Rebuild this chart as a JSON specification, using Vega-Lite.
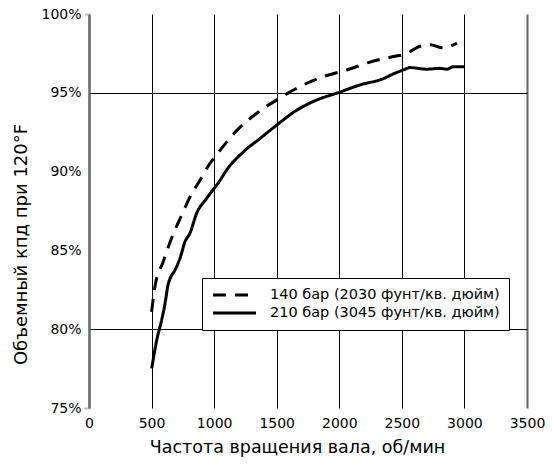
{
  "$schema": "https://vega.github.io/schema/vega-lite/v6.json",
  "autosize": "none",
  "width": 438,
  "height": 394,
  "padding": {"left": 89, "top": 14, "right": 27, "bottom": 60},
  "background": "white",
  "config": {
    "view": {"stroke": null},
    "font": "DejaVu Sans",
    "axis": {"labelFont": "DejaVu Sans", "titleFont": "DejaVu Sans", "labelColor": "black", "titleColor": "black", "titleFontWeight": "normal"}
  },
  "data": {
    "values": [
      {"rpm": 500, "eff": 81.1, "s": "140 бар (2030 фунт/кв. дюйм)"},
      {"rpm": 527, "eff": 82.7, "s": "140 бар (2030 фунт/кв. дюйм)"},
      {"rpm": 594, "eff": 84.3, "s": "140 бар (2030 фунт/кв. дюйм)"},
      {"rpm": 661, "eff": 85.8, "s": "140 бар (2030 фунт/кв. дюйм)"},
      {"rpm": 741, "eff": 87.25, "s": "140 бар (2030 фунт/кв. дюйм)"},
      {"rpm": 821, "eff": 88.6, "s": "140 бар (2030 фунт/кв. дюйм)"},
      {"rpm": 887, "eff": 89.45, "s": "140 бар (2030 фунт/кв. дюйм)"},
      {"rpm": 940, "eff": 90.2, "s": "140 бар (2030 фунт/кв. дюйм)"},
      {"rpm": 1047, "eff": 91.35, "s": "140 бар (2030 фунт/кв. дюйм)"},
      {"rpm": 1180, "eff": 92.6, "s": "140 бар (2030 фунт/кв. дюйм)"},
      {"rpm": 1340, "eff": 93.7, "s": "140 бар (2030 фунт/кв. дюйм)"},
      {"rpm": 1500, "eff": 94.55, "s": "140 бар (2030 фунт/кв. дюйм)"},
      {"rpm": 1687, "eff": 95.4, "s": "140 бар (2030 фунт/кв. дюйм)"},
      {"rpm": 1900, "eff": 96.1, "s": "140 бар (2030 фунт/кв. дюйм)"},
      {"rpm": 2060, "eff": 96.45, "s": "140 бар (2030 фунт/кв. дюйм)"},
      {"rpm": 2245, "eff": 96.95, "s": "140 бар (2030 фунт/кв. дюйм)"},
      {"rpm": 2432, "eff": 97.3, "s": "140 бар (2030 фунт/кв. дюйм)"},
      {"rpm": 2525, "eff": 97.45, "s": "140 бар (2030 фунт/кв. дюйм)"},
      {"rpm": 2645, "eff": 97.95, "s": "140 бар (2030 фунт/кв. дюйм)"},
      {"rpm": 2725, "eff": 98.05, "s": "140 бар (2030 фунт/кв. дюйм)"},
      {"rpm": 2832, "eff": 97.85, "s": "140 бар (2030 фунт/кв. дюйм)"},
      {"rpm": 2940, "eff": 98.15, "s": "140 бар (2030 фунт/кв. дюйм)"},
      {"rpm": 501, "eff": 77.5, "s": "210 бар (3045 фунт/кв. дюйм)"},
      {"rpm": 541, "eff": 79.3, "s": "210 бар (3045 фунт/кв. дюйм)"},
      {"rpm": 581, "eff": 80.6, "s": "210 бар (3045 фунт/кв. дюйм)"},
      {"rpm": 607, "eff": 81.6, "s": "210 бар (3045 фунт/кв. дюйм)"},
      {"rpm": 634, "eff": 82.9, "s": "210 бар (3045 фунт/кв. дюйм)"},
      {"rpm": 647, "eff": 83.2, "s": "210 бар (3045 фунт/кв. дюйм)"},
      {"rpm": 687, "eff": 83.75, "s": "210 бар (3045 фунт/кв. дюйм)"},
      {"rpm": 727, "eff": 84.5, "s": "210 бар (3045 фунт/кв. дюйм)"},
      {"rpm": 767, "eff": 85.55, "s": "210 бар (3045 фунт/кв. дюйм)"},
      {"rpm": 807, "eff": 86.1, "s": "210 бар (3045 фунт/кв. дюйм)"},
      {"rpm": 860, "eff": 87.35, "s": "210 бар (3045 фунт/кв. дюйм)"},
      {"rpm": 940, "eff": 88.3, "s": "210 бар (3045 фунт/кв. дюйм)"},
      {"rpm": 1047, "eff": 89.45, "s": "210 бар (3045 фунт/кв. дюйм)"},
      {"rpm": 1100, "eff": 90.1, "s": "210 бар (3045 фунт/кв. дюйм)"},
      {"rpm": 1233, "eff": 91.25, "s": "210 бар (3045 фунт/кв. дюйм)"},
      {"rpm": 1366, "eff": 92.1, "s": "210 бар (3045 фунт/кв. дюйм)"},
      {"rpm": 1500, "eff": 92.95, "s": "210 бар (3045 фунт/кв. дюйм)"},
      {"rpm": 1660, "eff": 93.9, "s": "210 бар (3045 фунт/кв. дюйм)"},
      {"rpm": 1793, "eff": 94.45, "s": "210 бар (3045 фунт/кв. дюйм)"},
      {"rpm": 2006, "eff": 95.05, "s": "210 бар (3045 фунт/кв. дюйм)"},
      {"rpm": 2166, "eff": 95.5, "s": "210 бар (3045 фунт/кв. дюйм)"},
      {"rpm": 2352, "eff": 95.9, "s": "210 бар (3045 фунт/кв. дюйм)"},
      {"rpm": 2432, "eff": 96.2, "s": "210 бар (3045 фунт/кв. дюйм)"},
      {"rpm": 2512, "eff": 96.45, "s": "210 бар (3045 фунт/кв. дюйм)"},
      {"rpm": 2565, "eff": 96.6, "s": "210 бар (3045 фунт/кв. дюйм)"},
      {"rpm": 2698, "eff": 96.5, "s": "210 бар (3045 фунт/кв. дюйм)"},
      {"rpm": 2804, "eff": 96.55, "s": "210 бар (3045 фунт/кв. дюйм)"},
      {"rpm": 2860, "eff": 96.5, "s": "210 бар (3045 фунт/кв. дюйм)"},
      {"rpm": 2911, "eff": 96.65, "s": "210 бар (3045 фунт/кв. дюйм)"},
      {"rpm": 3005, "eff": 96.65, "s": "210 бар (3045 фунт/кв. дюйм)"}
    ]
  },
  "mark": {"type": "line", "strokeWidth": 3, "color": "black", "interpolate": "monotone"},
  "encoding": {
    "x": {
      "field": "rpm", "type": "quantitative",
      "scale": {"domain": [0, 3500], "nice": false, "zero": false},
      "axis": {
        "title": "Частота вращения вала, об/мин",
        "values": [0, 500, 1000, 1500, 2000, 2500, 3000, 3500],
        "format": "d",
        "domain": false, "ticks": false,
        "grid": true,
        "gridColor": {"condition": {"test": "datum.value === 0 || datum.value === 3500", "value": "#666666"}, "value": "black"},
        "gridWidth": {"condition": {"test": "datum.value === 0 || datum.value === 3500", "value": 2}, "value": 1},
        "gridOpacity": 1,
        "labelFontSize": 14, "labelPadding": 8, "labelFlush": false,
        "titleFontSize": 17.5, "titlePadding": 8, "titleX": 208
      }
    },
    "y": {
      "field": "eff", "type": "quantitative",
      "scale": {"domain": [75, 100], "nice": false, "zero": false},
      "axis": {
        "title": "Объемный кпд при 120°F",
        "values": [75, 80, 85, 90, 95, 100],
        "labelExpr": "datum.value + '%'",
        "domain": true, "domainColor": "#666666", "domainWidth": 2,
        "ticks": true, "tickSize": 5, "tickColor": "#bbbbbb", "tickWidth": 2,
        "tickOpacity": {"condition": {"test": "datum.value === 75 || datum.value === 100", "value": 1}, "value": 0},
        "grid": true, "gridColor": "black", "gridWidth": 1,
        "gridOpacity": {"condition": {"test": "datum.value === 80 || datum.value === 95", "value": 1}, "value": 0},
        "labelFontSize": 14, "labelPadding": 3,
        "titleFontSize": 18, "titlePadding": 10, "titleY": 230
      }
    },
    "strokeDash": {
      "field": "s", "type": "nominal",
      "scale": {"domain": ["140 бар (2030 фунт/кв. дюйм)", "210 бар (3045 фунт/кв. дюйм)"], "range": [[13, 9], [1, 0]]},
      "legend": {
        "title": null,
        "orient": "none", "legendX": 113, "legendY": 264,
        "symbolType": "stroke", "symbolSize": 1850, "symbolStrokeWidth": 3, "symbolStrokeColor": "black",
        "clipHeight": 16,
        "labelFontSize": 14.5, "labelColor": "black", "labelFont": "DejaVu Sans", "labelLimit": 0,
        "strokeColor": "black", "fillColor": "white", "padding": 9, "rowPadding": 2, "labelOffset": 12
      }
    }
  }
}
